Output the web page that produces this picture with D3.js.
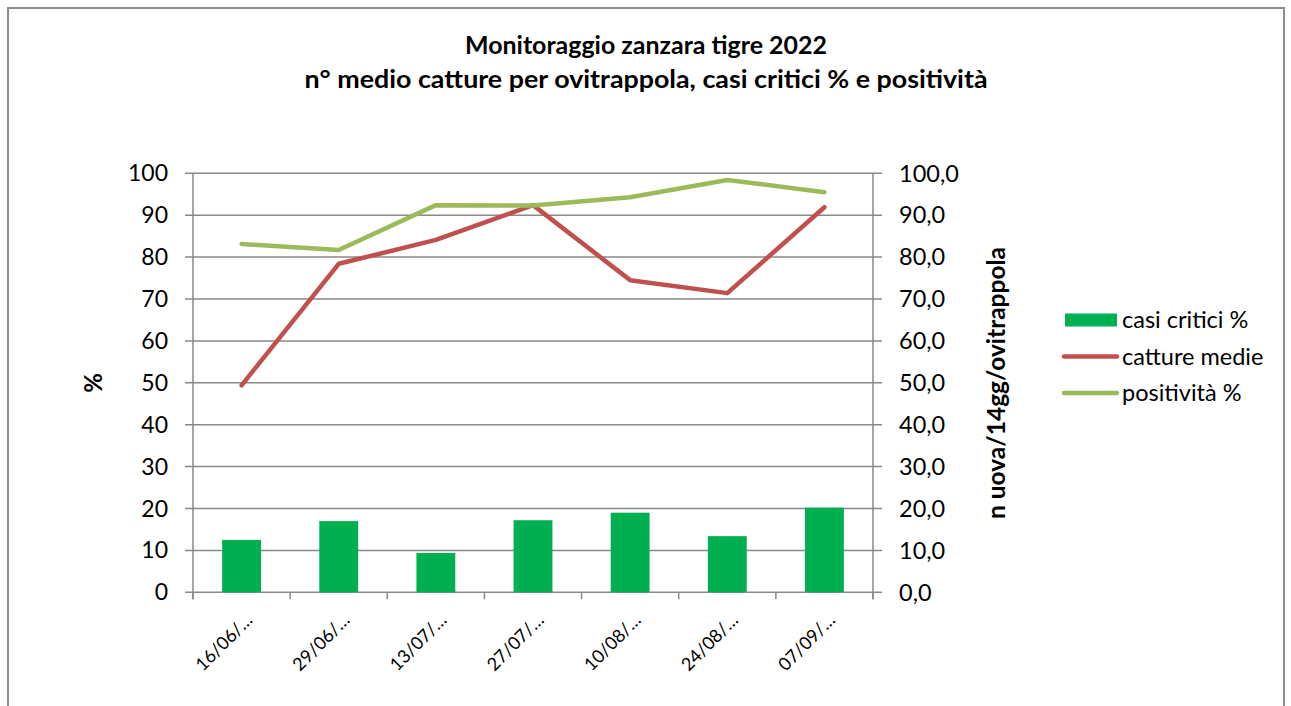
<!DOCTYPE html>
<html>
<head>
<meta charset="utf-8">
<script src="https://cdn.jsdelivr.net/npm/d3@7"></script>
<style>
  body { margin: 0; background: #fff; }
  svg { display: block; font-family: Lato, "Open Sans", sans-serif; }
</style>
</head>
<body>
<svg id="chart" width="1291" height="706"></svg>
<script>
// dati
const dates = ["16/06/\u2026", "29/06/\u2026", "13/07/\u2026", "27/07/\u2026", "10/08/\u2026", "24/08/\u2026", "07/09/\u2026"];
const casiCritici = [12.5, 17.0, 9.4, 17.2, 19.0, 13.4, 20.2];
const cattureMedie = [49.4, 78.4, 84.1, 92.4, 74.5, 71.4, 91.9];
const positivita = [83.1, 81.7, 92.4, 92.3, 94.3, 98.4, 95.5];
const yTicks = [0, 10, 20, 30, 40, 50, 60, 70, 80, 90, 100];

const svg = d3.select("#chart");
const grid = "#898989";

// cornice esterna
svg.append("rect").attr("x", 8).attr("y", 8).attr("width", 1276).attr("height", 720)
  .attr("fill", "none").attr("stroke", "#8c8c8c").attr("stroke-width", 2);

const plot = { left: 193, right: 873, top: 173.3, bottom: 592.3 };

const x = d3.scaleBand().domain(dates).range([plot.left, plot.right]);
const y = d3.scaleLinear().domain([0, 100]).range([plot.bottom, plot.top]);
const y2 = d3.scaleLinear().domain([0, 100]).range([plot.bottom, plot.top]);

// titolo
const title = svg.append("text").attr("text-anchor", "middle").attr("font-weight", "bold")
  .attr("font-size", 25).attr("fill", "#000");
title.append("tspan").attr("x", 646).attr("y", 54).attr("textLength", 362)
  .attr("lengthAdjust", "spacingAndGlyphs").text("Monitoraggio zanzara tigre 2022");
title.append("tspan").attr("x", 646).attr("y", 88).attr("textLength", 683)
  .attr("lengthAdjust", "spacingAndGlyphs").text("n\u00b0 medio catture per ovitrappola, casi critici % e positivit\u00e0");

// griglia
svg.append("g").selectAll("line").data(yTicks).join("line")
  .attr("x1", plot.left - 8).attr("x2", plot.right + 9)
  .attr("y1", d => y(d)).attr("y2", d => y(d))
  .attr("stroke", grid).attr("stroke-width", 1.5);

// assi verticali
svg.append("line").attr("x1", plot.left).attr("x2", plot.left)
  .attr("y1", plot.top).attr("y2", plot.bottom + 7).attr("stroke", grid).attr("stroke-width", 1.5);
svg.append("line").attr("x1", plot.right).attr("x2", plot.right)
  .attr("y1", plot.top).attr("y2", plot.bottom + 7).attr("stroke", grid).attr("stroke-width", 1.5);

// tacche asse x
const bounds = dates.map(d => x(d)).concat([plot.right]);
svg.append("g").selectAll("line").data(bounds).join("line")
  .attr("x1", d => d).attr("x2", d => d)
  .attr("y1", plot.bottom).attr("y2", plot.bottom + 7)
  .attr("stroke", grid).attr("stroke-width", 1.5);

// etichette asse sinistro
svg.append("g").selectAll("text").data(yTicks).join("text")
  .attr("x", 168).attr("y", d => y(d)).attr("dy", "0.35em")
  .attr("text-anchor", "end").attr("font-size", 23).attr("fill", "#000")
  .text(d => d);

// etichette asse destro
const fmt = d => d3.format(".1f")(d).replace(".", ",");
svg.append("g").selectAll("text").data(yTicks).join("text")
  .attr("x", 899).attr("y", d => y2(d)).attr("dy", "0.35em")
  .attr("text-anchor", "start").attr("font-size", 23.5).attr("fill", "#000")
  .text(fmt);

// titoli assi
svg.append("text").attr("transform", "translate(102,383) rotate(-90)")
  .attr("text-anchor", "middle").attr("font-weight", "bold").attr("font-size", 24)
  .text("%");
svg.append("text").attr("transform", "translate(1005,383) rotate(-90)")
  .attr("text-anchor", "middle").attr("font-weight", "bold").attr("font-size", 24.5)
  .text("n uova/14gg/ovitrappola");

// etichette categorie
svg.append("g").selectAll("text").data(dates).join("text")
  .attr("transform", d => `translate(${x(d) + x.bandwidth() / 2 + 12},${plot.bottom + 29}) rotate(-45)`)
  .attr("text-anchor", "end").attr("font-size", 18).attr("fill", "#000")
  .text(d => d);

// barre
const barW = x.bandwidth() / 2.5;
svg.append("g").selectAll("rect").data(casiCritici).join("rect")
  .attr("x", (d, i) => x(dates[i]) + x.bandwidth() / 2 - barW / 2)
  .attr("width", barW)
  .attr("y", d => y(d))
  .attr("height", d => plot.bottom - y(d))
  .attr("fill", "#00B050");

// linee
const line = d3.line().x((d, i) => x(dates[i]) + x.bandwidth() / 2).y(d => y2(d));
svg.append("path").datum(cattureMedie).attr("d", line)
  .attr("fill", "none").attr("stroke", "#C0504D").attr("stroke-width", 4.5)
  .attr("stroke-linecap", "round").attr("stroke-linejoin", "round");
svg.append("path").datum(positivita).attr("d", line)
  .attr("fill", "none").attr("stroke", "#9BBB59").attr("stroke-width", 4.5)
  .attr("stroke-linecap", "round").attr("stroke-linejoin", "round");

// legenda
const legend = [
  { name: "casi critici %", color: "#00B050", type: "bar" },
  { name: "catture medie", color: "#C0504D", type: "line" },
  { name: "positivit\u00e0 %", color: "#9BBB59", type: "line" }
];
const lg = svg.append("g").selectAll("g").data(legend).join("g")
  .attr("transform", (d, i) => `translate(0,${320 + i * 36.5})`);
lg.filter(d => d.type === "bar").append("rect")
  .attr("x", 1065).attr("y", -6.5).attr("width", 52).attr("height", 13).attr("fill", d => d.color);
lg.filter(d => d.type === "line").append("line")
  .attr("x1", 1064).attr("x2", 1117).attr("y1", 0).attr("y2", 0)
  .attr("stroke", d => d.color).attr("stroke-width", 4.5).attr("stroke-linecap", "round");
lg.append("text").attr("x", 1122).attr("y", 0).attr("dy", "0.35em")
  .attr("font-size", 23.5).attr("fill", "#000").text(d => d.name);
</script>
</body>
</html>
